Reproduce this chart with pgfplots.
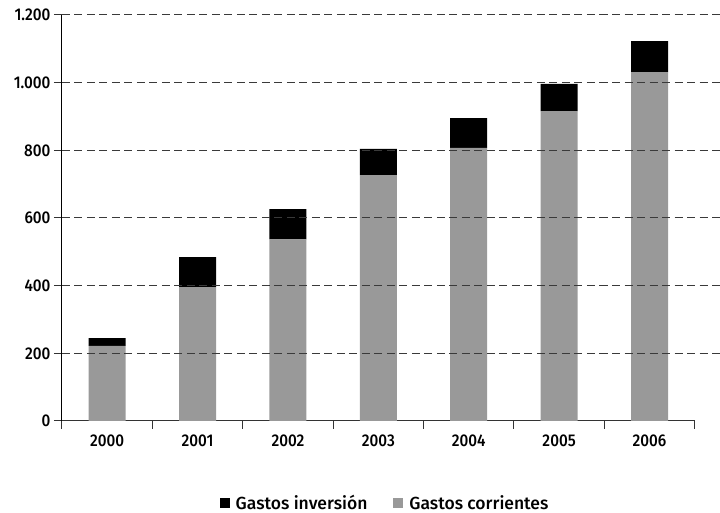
\documentclass[border=0pt]{standalone}
\usepackage{pgfplots}
\pgfplotsset{compat=1.18}
\usepackage{fontspec}
\setmainfont{Fira Sans}[UprightFont={* Medium}, FakeStretch=0.9]
\newfontfamily\legfont{Fira Sans}[UprightFont={* Medium}]

\definecolor{barGray}{HTML}{999999}
\definecolor{gridGray}{HTML}{3A3A3A}

\begin{document}
\begin{tikzpicture}
\begin{axis}[
    scale only axis,
    width=658bp, height=406bp,
    ybar stacked, bar width=37bp,
    xmin=-0.5, xmax=6.78,
    ymin=0, ymax=1200,
    axis x line*=bottom, axis y line*=left,
    x axis line style={draw=none},
    y axis line style={black, line width=1bp},
    axis on top,
    tick align=outside,
    major tick length=8bp,
    tick style={black!80, line width=1bp},
    xtick={-0.5,0.5,...,6.5}, xticklabels={},
    extra x ticks={0,1,2,3,4,5,6},
    extra x tick labels={2000,2001,2002,2003,2004,2005,2006},
    extra x tick style={major tick length=0pt, tick label style={yshift=-10bp}},
    ytick={0,200,...,1200},
    extra y ticks={200,400,...,1200},
    extra y tick labels={},
    extra y tick style={major tick length=0pt, grid=major},
    major grid style={gridGray, line width=1bp, dash pattern=on 8bp off 4.5bp},
    /pgf/number format/.cd, 1000 sep={.}, assume math mode=true, /pgfplots/.cd,
    tick label style={font=\fontsize{17bp}{20bp}\selectfont},
    legend style={at={(axis description cs:0.491,-0.202)}, anchor=center,
        draw=none, font=\legfont\fontsize{17.5bp}{20bp}\selectfont,
        /tikz/every odd column/.append style={column sep=4bp},
        /tikz/every even column/.append style={column sep=24bp}},
    legend columns=2,
    reverse legend,
    legend image code/.code={\fill (0bp,-5bp) rectangle (10bp,5bp);},
]
\addplot[fill=barGray, draw=none] coordinates {
    (0,222) (1,396) (2,537) (3,727) (4,807) (5,916) (6,1031)
};
\addlegendentry{Gastos corrientes}
\addplot[fill=black, draw=none] coordinates {
    (0,23) (1,88) (2,89) (3,77) (4,88) (5,80) (6,92)
};
\addlegendentry{Gastos inversión}
\draw[black!80, line width=1bp] (axis cs:-0.5,0) -- (axis cs:6.5,0);
\coordinate (bl) at (axis description cs:-0.0942,-0.2266);
\coordinate (tr) at (axis description cs:1,1.0369);
\end{axis}
\pgfresetboundingbox
\path (bl) rectangle (tr);
\end{tikzpicture}
\end{document}
